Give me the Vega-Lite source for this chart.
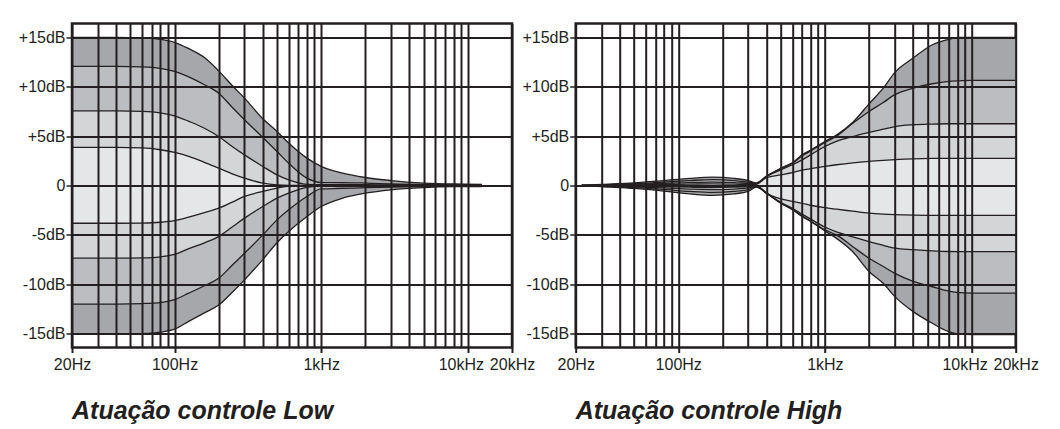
{
  "$schema": "https://vega.github.io/schema/vega-lite/v6.json",
  "background": "white",
  "padding": {"left": 17, "top": 21.5, "right": 5, "bottom": 5},
  "data": {"values": [
    {"panel":"Atuação controle Low","f":20,"c1":15,"c2":12.05,"c3":7.55,"c4":3.85,"c5":-3.82,"c6":-7.36,"c7":-12,"c8":-15.05},
    {"panel":"Atuação controle Low","f":40,"c1":15,"c2":12.05,"c3":7.55,"c4":3.85,"c5":-3.82,"c6":-7.36,"c7":-12,"c8":-15.05},
    {"panel":"Atuação controle Low","f":60,"c1":14.95,"c2":12,"c3":7.5,"c4":3.8,"c5":-3.8,"c6":-7.33,"c7":-11.95,"c8":-15},
    {"panel":"Atuação controle Low","f":80,"c1":14.8,"c2":11.85,"c3":7.35,"c4":3.62,"c5":-3.72,"c6":-7.22,"c7":-11.85,"c8":-14.85},
    {"panel":"Atuação controle Low","f":100,"c1":14.5,"c2":11.55,"c3":7.05,"c4":3.35,"c5":-3.55,"c6":-6.98,"c7":-11.55,"c8":-14.55},
    {"panel":"Atuação controle Low","f":125,"c1":13.85,"c2":11,"c3":6.5,"c4":2.95,"c5":-3.2,"c6":-6.4,"c7":-10.9,"c8":-13.75},
    {"panel":"Atuação controle Low","f":160,"c1":12.95,"c2":10.2,"c3":5.8,"c4":2.35,"c5":-2.75,"c6":-5.8,"c7":-10.15,"c8":-12.9},
    {"panel":"Atuação controle Low","f":200,"c1":11.6,"c2":9.35,"c3":4.96,"c4":1.75,"c5":-2.3,"c6":-5.17,"c7":-9.4,"c8":-12.1},
    {"panel":"Atuação controle Low","f":250,"c1":10.05,"c2":7.85,"c3":3.9,"c4":1.15,"c5":-1.65,"c6":-4.15,"c7":-8,"c8":-10.75},
    {"panel":"Atuação controle Low","f":300,"c1":8.85,"c2":6.66,"c3":3.1,"c4":0.74,"c5":-1.11,"c6":-3.3,"c7":-6.86,"c8":-9.55},
    {"panel":"Atuação controle Low","f":400,"c1":6.75,"c2":4.86,"c3":1.93,"c4":0.24,"c5":-0.6,"c6":-2.13,"c7":-5,"c8":-7.5},
    {"panel":"Atuação controle Low","f":500,"c1":5.47,"c2":3.44,"c3":1.08,"c4":0.05,"c5":-0.27,"c6":-1.28,"c7":-3.48,"c8":-5.8},
    {"panel":"Atuação controle Low","f":600,"c1":4.3,"c2":2.26,"c3":0.57,"c4":0,"c5":-0.05,"c6":-0.78,"c7":-2.46,"c8":-4.66},
    {"panel":"Atuação controle Low","f":800,"c1":2.77,"c2":0.74,"c3":0.12,"c4":0,"c5":0,"c6":-0.2,"c7":-1.11,"c8":-3.14},
    {"panel":"Atuação controle Low","f":1000,"c1":1.93,"c2":0.3,"c3":0.08,"c4":0,"c5":0,"c6":-0.05,"c7":-0.35,"c8":-2.13},
    {"panel":"Atuação controle Low","f":1400,"c1":1.25,"c2":0.3,"c3":0.1,"c4":0.02,"c5":-0.02,"c6":-0.1,"c7":-0.3,"c8":-1.28},
    {"panel":"Atuação controle Low","f":2000,"c1":0.81,"c2":0.25,"c3":0.08,"c4":0.02,"c5":-0.02,"c6":-0.08,"c7":-0.22,"c8":-0.78},
    {"panel":"Atuação controle Low","f":3000,"c1":0.5,"c2":0.15,"c3":0.05,"c4":0.01,"c5":-0.01,"c6":-0.05,"c7":-0.15,"c8":-0.44},
    {"panel":"Atuação controle Low","f":5000,"c1":0.25,"c2":0.08,"c3":0.03,"c4":0,"c5":0,"c6":-0.03,"c7":-0.08,"c8":-0.22},
    {"panel":"Atuação controle Low","f":8000,"c1":0.15,"c2":0.05,"c3":0.02,"c4":0,"c5":0,"c6":-0.02,"c7":-0.05,"c8":-0.12},
    {"panel":"Atuação controle Low","f":12500,"c1":0.12,"c2":0.04,"c3":0.01,"c4":0,"c5":0,"c6":-0.01,"c7":-0.04,"c8":-0.1},
    {"panel":"Atuação controle High","f":22,"c1":0,"c2":0,"c3":0,"c4":0,"c5":0,"c6":0,"c7":0,"c8":0},
    {"panel":"Atuação controle High","f":30,"c1":0.1,"c2":0.07,"c3":0.04,"c4":0.02,"c5":-0.02,"c6":-0.05,"c7":-0.08,"c8":-0.12},
    {"panel":"Atuação controle High","f":50,"c1":0.26,"c2":0.18,"c3":0.11,"c4":0.05,"c5":-0.06,"c6":-0.13,"c7":-0.21,"c8":-0.3},
    {"panel":"Atuação controle High","f":80,"c1":0.5,"c2":0.35,"c3":0.21,"c4":0.1,"c5":-0.11,"c6":-0.24,"c7":-0.4,"c8":-0.57},
    {"panel":"Atuação controle High","f":120,"c1":0.72,"c2":0.5,"c3":0.3,"c4":0.14,"c5":-0.17,"c6":-0.36,"c7":-0.6,"c8":-0.85},
    {"panel":"Atuação controle High","f":170,"c1":0.84,"c2":0.59,"c3":0.35,"c4":0.17,"c5":-0.2,"c6":-0.42,"c7":-0.7,"c8":-1},
    {"panel":"Atuação controle High","f":240,"c1":0.72,"c2":0.5,"c3":0.3,"c4":0.14,"c5":-0.17,"c6":-0.36,"c7":-0.6,"c8":-0.85},
    {"panel":"Atuação controle High","f":300,"c1":0.5,"c2":0.35,"c3":0.21,"c4":0.1,"c5":-0.12,"c6":-0.25,"c7":-0.42,"c8":-0.6},
    {"panel":"Atuação controle High","f":340,"c1":0.25,"c2":0.22,"c3":0.18,"c4":0.12,"c5":0.02,"c6":-0.05,"c7":-0.12,"c8":-0.17},
    {"panel":"Atuação controle High","f":400,"c1":0.95,"c2":0.93,"c3":0.92,"c4":0.8,"c5":-0.8,"c6":-0.75,"c7":-0.77,"c8":-0.78},
    {"panel":"Atuação controle High","f":500,"c1":1.75,"c2":1.7,"c3":1.59,"c4":1.08,"c5":-1.35,"c6":-1.72,"c7":-1.76,"c8":-1.8},
    {"panel":"Atuação controle High","f":600,"c1":2.3,"c2":2.25,"c3":2.1,"c4":1.3,"c5":-1.6,"c6":-2.3,"c7":-2.4,"c8":-2.46},
    {"panel":"Atuação controle High","f":700,"c1":3.1,"c2":3,"c3":2.6,"c4":1.55,"c5":-1.8,"c6":-2.9,"c7":-3.08,"c8":-3.14},
    {"panel":"Atuação controle High","f":800,"c1":3.6,"c2":3.5,"c3":3.1,"c4":1.7,"c5":-2,"c6":-3.4,"c7":-3.6,"c8":-3.65},
    {"panel":"Atuação controle High","f":1000,"c1":4.45,"c2":4.35,"c3":3.95,"c4":1.93,"c5":-2.25,"c6":-4.2,"c7":-4.5,"c8":-4.6},
    {"panel":"Atuação controle High","f":1200,"c1":5.1,"c2":5,"c3":4.46,"c4":2.1,"c5":-2.4,"c6":-4.7,"c7":-5,"c8":-5.35},
    {"panel":"Atuação controle High","f":1550,"c1":6.4,"c2":6.3,"c3":4.96,"c4":2.3,"c5":-2.6,"c6":-5.2,"c7":-6.2,"c8":-6.7},
    {"panel":"Atuação controle High","f":2000,"c1":8.27,"c2":7.5,"c3":5.37,"c4":2.45,"c5":-2.8,"c6":-5.67,"c7":-7.36,"c8":-8.7},
    {"panel":"Atuação controle High","f":2500,"c1":9.86,"c2":8.4,"c3":5.7,"c4":2.55,"c5":-2.9,"c6":-6.05,"c7":-8.2,"c8":-9.9},
    {"panel":"Atuação controle High","f":3000,"c1":11.45,"c2":9.2,"c3":5.97,"c4":2.62,"c5":-2.95,"c6":-6.35,"c7":-8.9,"c8":-11.25},
    {"panel":"Atuação controle High","f":4000,"c1":12.9,"c2":9.86,"c3":6.15,"c4":2.7,"c5":-3,"c6":-6.5,"c7":-9.7,"c8":-12.77},
    {"panel":"Atuação controle High","f":5400,"c1":14.25,"c2":10.3,"c3":6.22,"c4":2.74,"c5":-3.02,"c6":-6.62,"c7":-10.25,"c8":-13.95},
    {"panel":"Atuação controle High","f":7000,"c1":14.8,"c2":10.54,"c3":6.25,"c4":2.75,"c5":-3.03,"c6":-6.68,"c7":-10.7,"c8":-14.8},
    {"panel":"Atuação controle High","f":8300,"c1":15,"c2":10.6,"c3":6.25,"c4":2.75,"c5":-3.03,"c6":-6.69,"c7":-10.85,"c8":-15.05},
    {"panel":"Atuação controle High","f":10000,"c1":15,"c2":10.64,"c3":6.25,"c4":2.75,"c5":-3.03,"c6":-6.69,"c7":-10.9,"c8":-15.1},
    {"panel":"Atuação controle High","f":20000,"c1":15,"c2":10.64,"c3":6.25,"c4":2.75,"c5":-3.03,"c6":-6.69,"c7":-10.9,"c8":-15.1}
  ]},
  "facet": {
    "column": {
      "field": "panel", "type": "nominal", "sort": "descending", "title": null,
      "header": {
        "labelOrient": "bottom", "labelAnchor": "start", "labelAngle": 0,
        "labelFont": "Liberation Sans", "labelFontSize": 25, "labelFontWeight": "bold",
        "labelFontStyle": "italic", "labelColor": "#231f20", "labelPadding": 76
      }
    }
  },
  "spacing": 63.7,
  "bounds": "flush",
  "resolve": {"axis": {"y": "independent", "x": "independent"}},
  "spec": {
    "width": 440,
    "height": 324,
    "encoding": {
      "x": {
        "field": "f", "type": "quantitative", "title": null,
        "scale": {"type": "log", "domain": [20, 20000], "nice": false, "zero": false},
        "axis": {
          "values": [20,30,40,50,60,70,80,90,100,200,300,400,500,600,700,800,900,1000,2000,3000,4000,5000,6000,7000,8000,9000,10000,20000],
          "labelExpr": "datum.value == 20 ? '20Hz' : datum.value == 100 ? '100Hz' : datum.value == 1000 ? '1kHz' : datum.value == 10000 ? '10kHz' : datum.value == 20000 ? '20kHz' : ''",
          "grid": true, "gridColor": "#231f20", "gridWidth": 2, "gridOpacity": 1,
          "domain": false, "tickSize": 5, "tickWidth": 2, "tickColor": "#231f20",
          "tickOpacity": {"condition": {"test": "indexof([20,100,1000,10000,20000], datum.value) >= 0", "value": 1}, "value": 0},
          "labelOffset": {"condition": {"test": "datum.value == 10000", "value": -7}, "value": 0},
          "labelFont": "Liberation Sans", "labelFontSize": 16, "labelColor": "#231f20",
          "labelPadding": 4, "labelOverlap": false, "labelFlush": false, "zindex": 1
        }
      }
    },
    "layer": [
      {"mark": {"type": "area", "color": "#a6a7aa", "interpolate": "monotone"},
       "encoding": {
         "y": {"field": "c1", "type": "quantitative", "title": null,
               "scale": {"domain": [-16.4, 16.4], "nice": false, "zero": false},
               "axis": {
                 "values": [-15,-10,-5,0,5,10,15],
                 "labelExpr": "datum.value > 0 ? '+' + datum.value + 'dB' : datum.value == 0 ? '0' : datum.value + 'dB'",
                 "grid": true, "gridColor": "#231f20", "gridWidth": 2, "gridOpacity": 1,
                 "domain": false, "tickSize": 6, "tickWidth": 1.5, "tickColor": "#231f20",
                 "labelFont": "Liberation Sans", "labelFontSize": 16, "labelColor": "#231f20",
                 "labelPadding": 1, "zindex": 1
               }},
         "y2": {"field": "c2"}}},
      {"mark": {"type": "area", "color": "#bcbdc0", "interpolate": "monotone"},
       "encoding": {"y": {"field": "c2", "type": "quantitative"}, "y2": {"field": "c3"}}},
      {"mark": {"type": "area", "color": "#d4d5d7", "interpolate": "monotone"},
       "encoding": {"y": {"field": "c3", "type": "quantitative"}, "y2": {"field": "c4"}}},
      {"mark": {"type": "area", "color": "#e5e6e8", "interpolate": "monotone"},
       "encoding": {"y": {"field": "c4", "type": "quantitative"}, "y2": {"field": "c5"}}},
      {"mark": {"type": "area", "color": "#d4d5d7", "interpolate": "monotone"},
       "encoding": {"y": {"field": "c5", "type": "quantitative"}, "y2": {"field": "c6"}}},
      {"mark": {"type": "area", "color": "#bcbdc0", "interpolate": "monotone"},
       "encoding": {"y": {"field": "c6", "type": "quantitative"}, "y2": {"field": "c7"}}},
      {"mark": {"type": "area", "color": "#a6a7aa", "interpolate": "monotone"},
       "encoding": {"y": {"field": "c7", "type": "quantitative"}, "y2": {"field": "c8"}}},
      {"transform": [{"fold": ["c1","c2","c3","c4","c5","c6","c7","c8"], "as": ["curve", "g"]}],
       "mark": {"type": "line", "color": "#231f20", "strokeWidth": 1.3, "interpolate": "monotone"},
       "encoding": {"y": {"field": "g", "type": "quantitative"}, "detail": {"field": "curve", "type": "nominal"}}}
    ]
  },
  "config": {
    "view": {"stroke": "#231f20", "strokeWidth": 2.5},
    "font": "Liberation Sans"
  }
}
